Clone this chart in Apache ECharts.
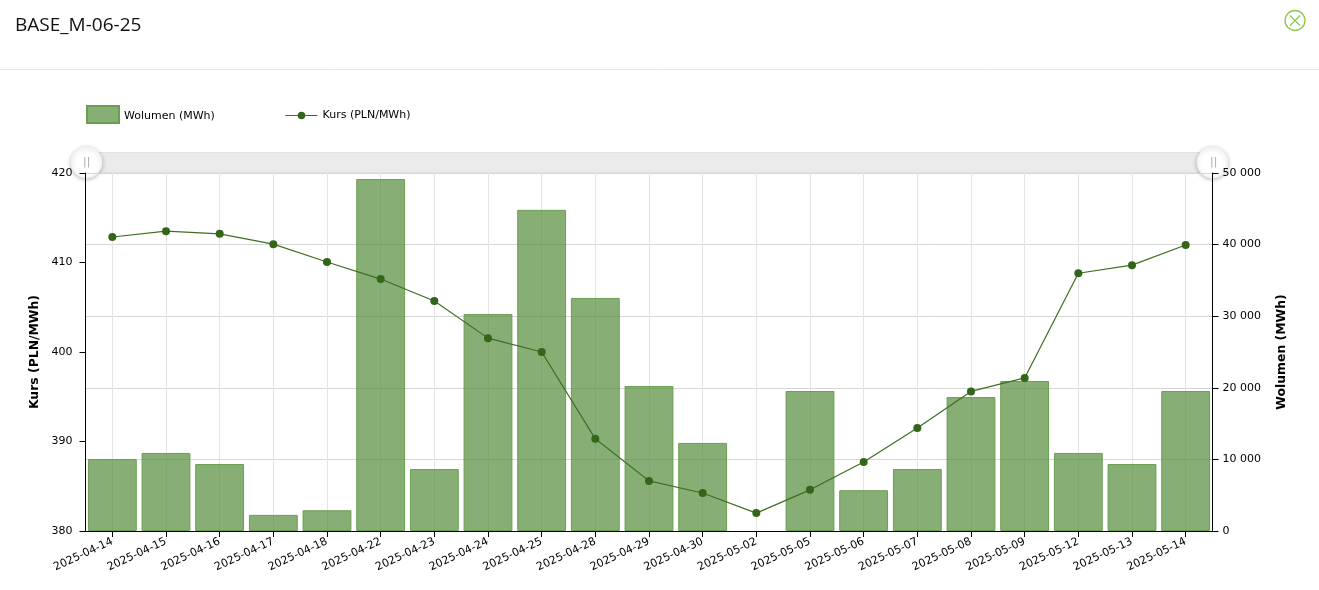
<!DOCTYPE html>
<html><head><meta charset="utf-8">
<style>html,body{margin:0;padding:0;background:#fff}#c{width:1319px;height:590px}</style>
<script src="https://cdn.jsdelivr.net/npm/echarts@6/dist/echarts.min.js"></script>
</head><body><div id="c"></div>
<script>
const categories=['2025-04-14','2025-04-15','2025-04-16','2025-04-17','2025-04-18','2025-04-22','2025-04-23','2025-04-24','2025-04-25','2025-04-28','2025-04-29','2025-04-30','2025-05-02','2025-05-05','2025-05-06','2025-05-07','2025-05-08','2025-05-09','2025-05-12','2025-05-13','2025-05-14'];
const wolumen=[10050,10900,9350,2250,2900,49150,8650,30300,44850,32550,20250,12300,null,19550,5700,8650,18700,20950,10900,9350,19550];
const kurs=[412.85,413.5,413.2,412.05,410.05,408.15,405.7,401.55,400,390.3,385.6,384.25,382,384.6,387.7,391.5,395.6,397.1,408.8,409.7,411.95];
const font='"DejaVu Sans"';
const chart=echarts.init(document.getElementById('c'),null,{renderer:'canvas'});
const handle=x=>({type:'text',z:200,left:x,top:157,style:{text:'||',font:'11px '+font,fill:'#aaa'}});
const tick={show:true,inside:false,length:6,lineStyle:{color:'#000',width:1,opacity:1}};
chart.setOption({
  animation:false,
  textStyle:{fontFamily:font},
  legend:[
    {left:81,top:100,itemWidth:32,itemHeight:17,formatter:'{a|{name}}',
     textStyle:{rich:{a:{fontFamily:font,fontSize:11,color:'#000',padding:[4,0,0,0]}}},
     data:[{name:'Wolumen (MWh)',icon:'rect'}]},
    {left:280,top:105,itemWidth:32,itemHeight:9.4,lineStyle:{width:1},
     textStyle:{fontFamily:font,fontSize:11,color:'#000'},
     data:['Kurs (PLN/MWh)']}
  ],
  grid:{left:85.5,right:106.5,top:173,bottom:59,containLabel:false},
  dataZoom:[{type:'slider',xAxisIndex:0,start:0,end:100,left:84,right:107,top:152,height:21,z:-1,
    showDetail:false,showDataShadow:false,brushSelect:false,realtime:false,
    backgroundColor:'#ebebeb',borderColor:'#e2e2e2',fillerColor:'#ebebeb',
    moveHandleSize:0,
    handleIcon:'circle',handleSize:31,
    handleStyle:{color:'#fff',borderColor:'#f2f2f2',borderWidth:1,shadowBlur:4,shadowColor:'rgba(0,0,0,0.25)',shadowOffsetY:1}}],
  xAxis:{type:'category',data:categories,boundaryGap:true,
    axisLine:{lineStyle:{color:'#000',width:1}},
    axisTick:{...tick,alignWithLabel:true},
    axisLabel:{rotate:25,fontSize:11,color:'#000',margin:10,interval:0,fontFamily:font},
    splitLine:{show:true,alignWithLabel:true,lineStyle:{color:'#e4e4e4',width:1}}},
  yAxis:[
    {type:'value',min:380,max:420,interval:10,position:'left',
     name:'Kurs (PLN/MWh)',nameLocation:'middle',nameGap:41,
     nameTextStyle:{fontFamily:font,fontWeight:'bold',fontSize:12.4,color:'#000'},
     axisLine:{show:true,lineStyle:{color:'#000',width:1}},
     axisTick:tick,
     axisLabel:{fontSize:11,color:'#000',margin:13,fontFamily:font,padding:[1,0,0,0]},
     splitLine:{show:false}},
    {type:'value',min:0,max:50000,interval:10000,position:'right',
     name:'Wolumen (MWh)',nameLocation:'middle',nameGap:63,
     nameTextStyle:{fontFamily:font,fontWeight:'bold',fontSize:12.4,color:'#000'},
     axisLine:{show:true,lineStyle:{color:'#000',width:1}},
     axisTick:tick,
     axisLabel:{fontSize:11,color:'#000',margin:10,fontFamily:font,padding:[1,0,0,0],
       formatter:v=>String(v).replace(/\B(?=(\d{3})+$)/g,' ')},
     splitLine:{show:true,lineStyle:{color:'#d6d6d6',width:1}}}
  ],
  series:[
    {name:'Wolumen (MWh)',type:'bar',yAxisIndex:1,data:wolumen,barWidth:'91%',
     itemStyle:{color:'rgba(84,140,58,0.7)',borderColor:'#6a9f50',borderWidth:1}},
    {name:'Kurs (PLN/MWh)',type:'line',yAxisIndex:0,data:kurs,symbol:'circle',symbolSize:8,z:5,
     lineStyle:{color:'#3d6e22',width:1.2},itemStyle:{color:'#33661a'}}
  ],
  graphic:[
    {type:'text',left:15,top:16,style:{text:'BASE_M-06-25',font:'19px "Open Sans"',fill:'#111'}},
    {type:'line',shape:{x1:0,y1:69.5,x2:1319,y2:69.5},style:{stroke:'#e6e6e6',lineWidth:1}},
    {type:'circle',shape:{cx:1295,cy:20.5,r:10},style:{fill:'#fff',stroke:'#8ccb4a',lineWidth:1.3}},
    {type:'line',shape:{x1:1290,y1:15.5,x2:1300,y2:25.5},style:{stroke:'#8ccb4a',lineWidth:1.2}},
    {type:'line',shape:{x1:1300,y1:15.5,x2:1290,y2:25.5},style:{stroke:'#8ccb4a',lineWidth:1.2}},
    handle(83),handle(1210)
  ]
});
</script></body></html>
